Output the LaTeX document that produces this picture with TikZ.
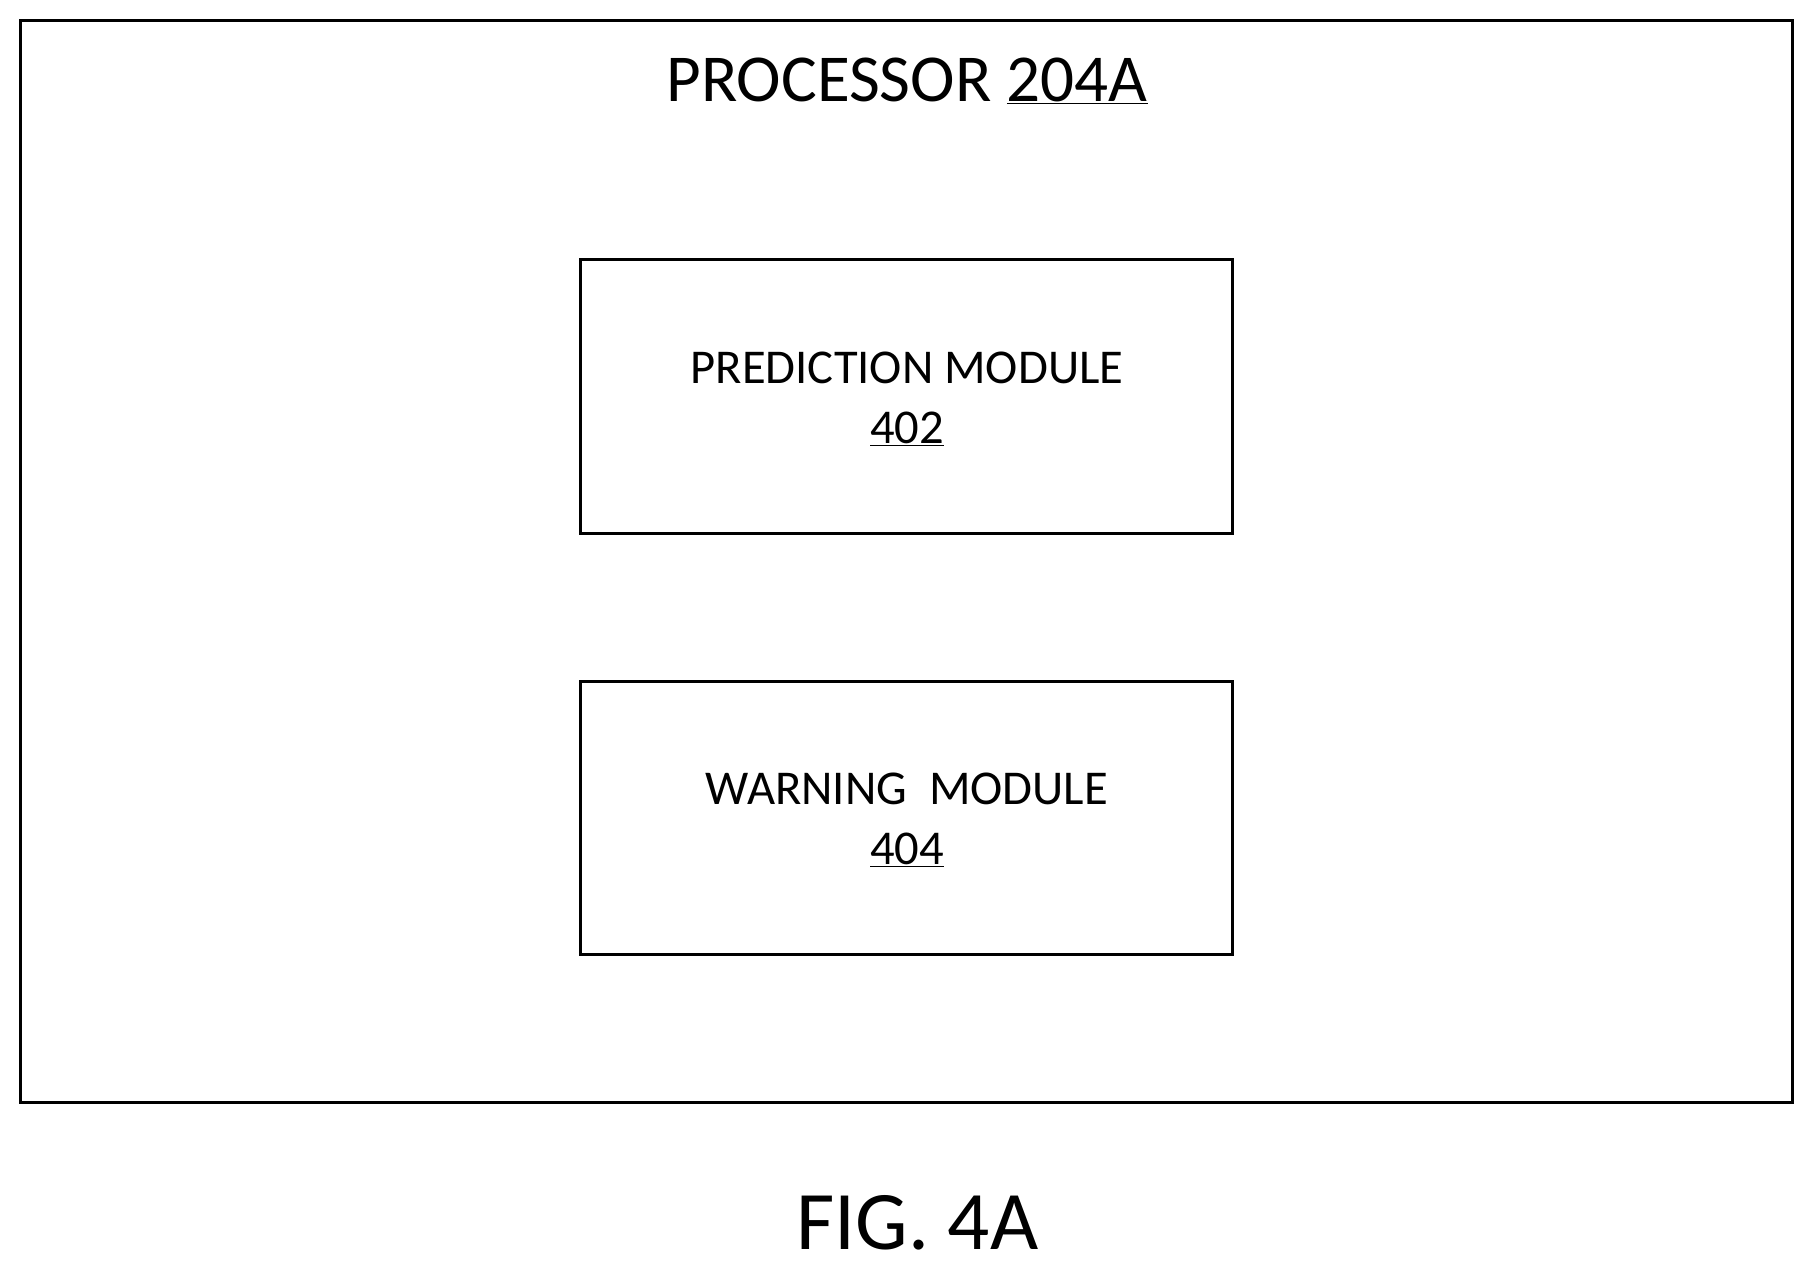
\documentclass[tikz,border=0pt]{standalone}
\usepackage{fontspec}
\setmainfont{Carlito}
\begin{document}
\begin{tikzpicture}[x=1pt,y=-1pt,
  box/.style={draw,line width=2.6pt},
  lbl/.style={font=\fontsize{42}{52}\selectfont,align=center,inner sep=0pt}]
\useasboundingbox (0,0) rectangle (1568,1097);
\draw[box] (18,18) rectangle (1549,953);
\node[inner sep=0pt,font=\fontsize{58}{60}\selectfont] (title) at (784,70) {PROCESSOR \underline{204A}};
\draw[box] (502,224) rectangle (1065,461);
\node[lbl] (pm) at (784,345) {PREDICTION MODULE\\\underline{402}};
\draw[box] (502,589) rectangle (1065,825);
\node[lbl] (wm) at (784,709) {WARNING\ \ MODULE\\\underline{404}};
\node[inner sep=0pt,font=\fontsize{72}{74}\selectfont] (fig) at (793,1057) {FIG. 4A};
\end{tikzpicture}
\end{document}
